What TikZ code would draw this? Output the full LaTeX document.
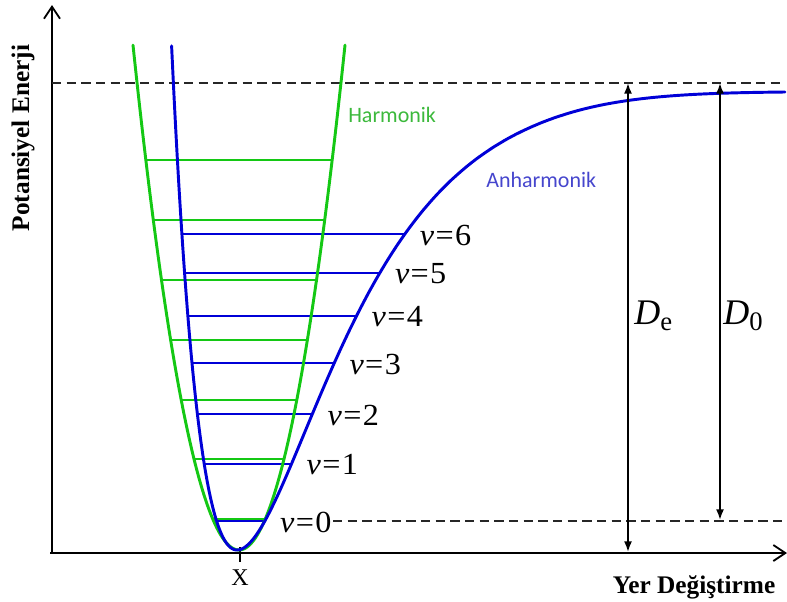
\documentclass[tikz,border=0pt]{standalone}
\usepackage{fontspec}
\setmainfont{Liberation Serif}
\newfontfamily\calibri{Carlito}
\usetikzlibrary{arrows.meta}
\definecolor{hgreen}{RGB}{20,200,20}
\definecolor{hgreentext}{RGB}{60,185,60}
\definecolor{ablue}{RGB}{0,0,215}
\definecolor{abluetext}{RGB}{70,70,205}
\newcommand{\vlab}[1]{\scalebox{1.05}[1]{\textit{v}\kern1pt=\kern1pt#1}}
\begin{document}
\begin{tikzpicture}[x=0.75pt,y=-0.75pt,
  axis/.style={line width=1.6pt, -{Straight Barb[length=9pt,width=12pt,line width=1.4pt]}},
  dashline/.style={line width=1pt, dash pattern=on 7pt off 4pt, black!85},
  curve/.style={line width=2.2pt, line join=round, line cap=round},
  glevel/.style={hgreen, line width=1.2pt},
  blevel/.style={ablue, line width=1.2pt},
  darrow/.style={line width=1.3pt, {Latex[length=8pt,width=6pt]}-{Latex[length=8pt,width=6pt]}},
  vlabel/.style={anchor=west, inner sep=0pt, font=\fontsize{23}{23}\selectfont},
  dlabel/.style={anchor=base west, inner sep=0pt, font=\fontsize{27}{27}\selectfont},
  axlabel/.style={inner sep=0pt, font=\bfseries\fontsize{19}{19}\selectfont},
  curvelabel/.style={anchor=west, inner sep=0pt, font=\calibri\fontsize{16.5}{16.5}\selectfont}
]
\useasboundingbox (0,0) rectangle (787,601);

% axes
\coordinate (O) at (52,553);
\coordinate (ytop) at (52,5);
\coordinate (xstart) at (50,553);
\coordinate (xend) at (787,553);
\draw[axis] (O) -- (ytop);
\draw[axis] (xstart) -- (xend);

% dissociation dashed line
\coordinate (dtL) at (52,83);
\coordinate (dtR) at (785,83);
\draw[dashline] (dtL) -- (dtR);

% X tick
\coordinate (tickA) at (240,547);
\coordinate (tickB) at (240,562);
\draw[line width=0.8pt] (tickA) -- (tickB);
\node[inner sep=0pt, font=\fontsize{18}{18}\selectfont] (xlab) at (240,578) {X};

% green harmonic levels
\foreach \v/\yy in {0/519,1/459,2/400,3/340,4/280,5/220,6/160}{
  \pgfmathsetmacro{\ww}{sqrt((550-\yy)/0.04494)}
  \coordinate (gL\v) at ({239-\ww},\yy);
  \coordinate (gR\v) at ({239+\ww},\yy);
  \draw[glevel] (gL\v) -- (gR\v);
}

% blue anharmonic levels
\foreach \v/\yy in {0/521,1/464,2/414,3/363,4/316,5/273,6/234}{
  \pgfmathsetmacro{\ss}{sqrt((550-\yy)/467)}
  \pgfmathsetmacro{\xl}{237-ln(1+\ss)/0.0109}
  \pgfmathsetmacro{\xr}{237-ln(1-\ss)/0.0103}
  \coordinate (bL\v) at (\xl,\yy);
  \coordinate (bR\v) at (\xr,\yy);
  \draw[blevel] (bL\v) -- (bR\v);
  \node[vlabel] (l\v) at ({\xr+15},{\yy+1}) {\vlab{\v}};
}

% green parabola
\draw[hgreen,curve] plot[domain=133:345,samples=120] (\x,{550-0.04494*(\x-239)*(\x-239)});

% blue Morse curve
\draw[ablue,curve] plot[domain=171.6:237,samples=60]
   (\x,{550-467*(1-exp(-0.0109*(\x-237)))*(1-exp(-0.0109*(\x-237)))})
  -- plot[domain=237:560,samples=140]
   (\x,{550-467*(1-exp(-0.0103*(\x-237)))*(1-exp(-0.0103*(\x-237)))})
  .. controls (620,96) and (690,93) .. (785,92);

% v=0 dashed line
\coordinate (v0end) at (785,521);
\draw[dashline] ([xshift=1pt]l0.east |- bR0) -- (v0end);

% D arrows
\coordinate (DeB) at (628,552);
\coordinate (DeT) at (628,83);
\coordinate (D0B) at (720,520);
\coordinate (D0T) at (720,83);
\draw[darrow] (DeB) -- (DeT);
\draw[darrow] (D0B) -- (D0T);
\node[dlabel] (De) at (634,324) {\textit{D}\raisebox{-5pt}{\fontsize{20}{20}\selectfont e}};
\node[dlabel] (D0) at (723,324) {\textit{D}\raisebox{-5pt}{\fontsize{20}{20}\selectfont 0}};

% curve labels
\node[curvelabel, text=hgreentext] (harm) at (348,115) {Harmonik};
\node[curvelabel, text=abluetext] (anharm) at (486,180) {Anharmonik};

% axis labels
\node[axlabel] (xax) at (694,587) {Yer Değiştirme};
\node[axlabel, rotate=90] (yax) at (23,138) {Potansiyel Enerji};
\end{tikzpicture}
\end{document}
